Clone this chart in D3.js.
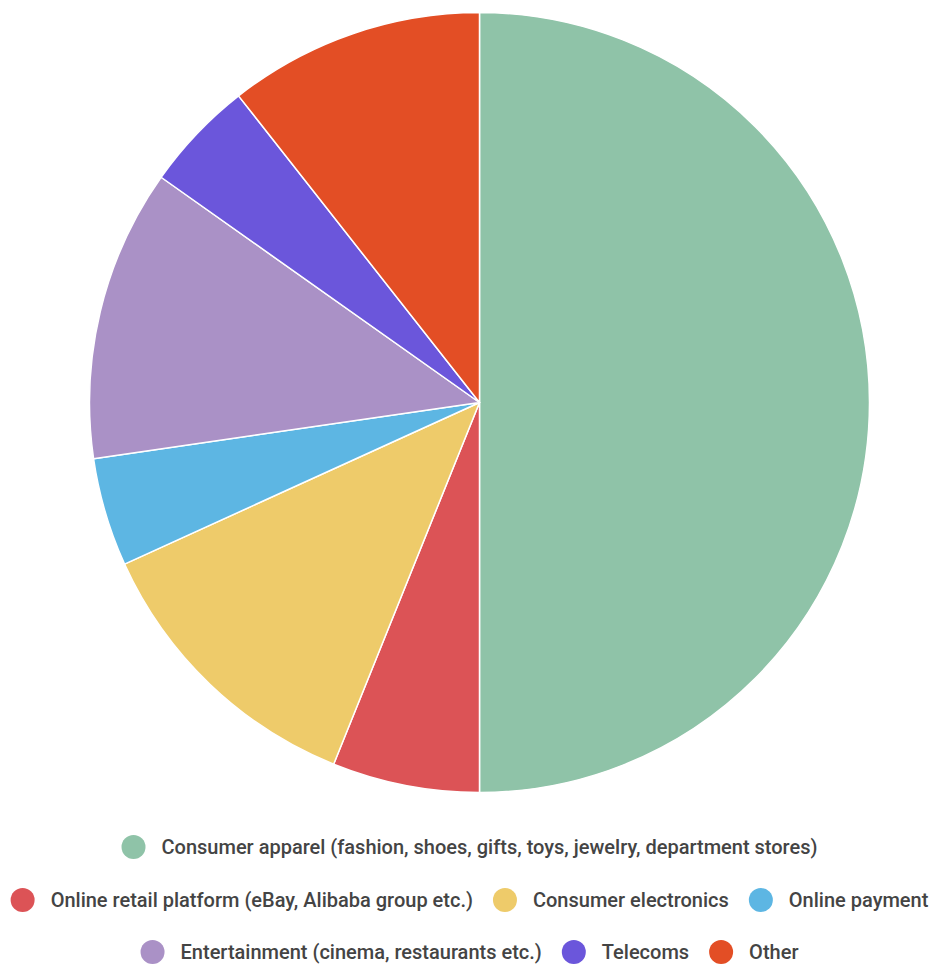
<!DOCTYPE html>
<html>
<head>
<meta charset="utf-8">
<script src="https://cdn.jsdelivr.net/npm/d3@7"></script>
<style>
  html, body { margin: 0; padding: 0; background: #fff; }
  svg { display: block; }
  text { font-family: Roboto, "Noto Sans", sans-serif; }
</style>
</head>
<body>
<svg id="chart" width="939" height="967"></svg>
<script>
// Share of spending by category (%)
const categories = [
  "Consumer apparel (fashion, shoes, gifts, toys, jewelry, department stores)",
  "Online retail platform (eBay, Alibaba group etc.)",
  "Consumer electronics",
  "Online payment",
  "Entertainment (cinema, restaurants etc.)",
  "Telecoms",
  "Other"
];
const values = [50, 6.1, 12.1, 4.5, 12.1, 4.6, 10.6];
const colors = ["#8fc3a8", "#dc5356", "#eecb6a", "#5db6e3", "#aa91c6", "#6b56db", "#e34e25"];

const W = 939, H = 967;
const cx = 479.5, cy = 402.5, R = 390;

const svg = d3.select("#chart");
const data = categories.map((c, i) => ({ name: c, value: values[i], color: colors[i] }));

const pie = d3.pie().sort(null).value(d => d.value);
const arc = d3.arc().innerRadius(0).outerRadius(R);

svg.append("g")
  .attr("transform", `translate(${cx},${cy})`)
  .selectAll("path")
  .data(pie(data))
  .join("path")
  .attr("d", arc)
  .attr("fill", d => d.data.color)
  .attr("stroke", "#fff")
  .attr("stroke-width", 1.5)
  .attr("stroke-linejoin", "round");

// Legend: wrapped rows, each row centred
const fontSize = 20, dotR = 12, dotGap = 16, itemGap = 20, maxW = 930;
const rowY = [847, 900, 952];
const legend = svg.append("g");

const measure = legend.append("text")
  .attr("font-size", fontSize).attr("font-weight", 500).attr("visibility", "hidden");
const items = data.map(d => {
  measure.text(d.name);
  const tw = measure.node().getComputedTextLength();
  return { ...d, tw, w: dotR * 2 + dotGap + tw };
});
measure.remove();

const rows = [];
let cur = [], curW = 0;
items.forEach(it => {
  const add = cur.length ? itemGap + it.w : it.w;
  if (cur.length && curW + add > maxW) { rows.push(cur); cur = [it]; curW = it.w; }
  else { cur.push(it); curW += add; }
});
if (cur.length) rows.push(cur);

rows.forEach((row, ri) => {
  const total = d3.sum(row, d => d.w) + itemGap * (row.length - 1);
  let x = (W - total) / 2;
  const y = rowY[ri] !== undefined ? rowY[ri] : rowY[rowY.length - 1] + 52 * (ri - rowY.length + 1);
  row.forEach(it => {
    const g = legend.append("g").attr("transform", `translate(${x},${y})`);
    g.append("circle").attr("cx", dotR).attr("cy", 0).attr("r", dotR).attr("fill", it.color);
    g.append("text")
      .attr("x", dotR * 2 + dotGap)
      .attr("y", 0)
      .attr("dy", "0.35em")
      .attr("font-size", fontSize)
      .attr("font-weight", 500)
      .attr("fill", "#444")
      .text(it.name);
    x += it.w + itemGap;
  });
});
</script>
</body>
</html>
